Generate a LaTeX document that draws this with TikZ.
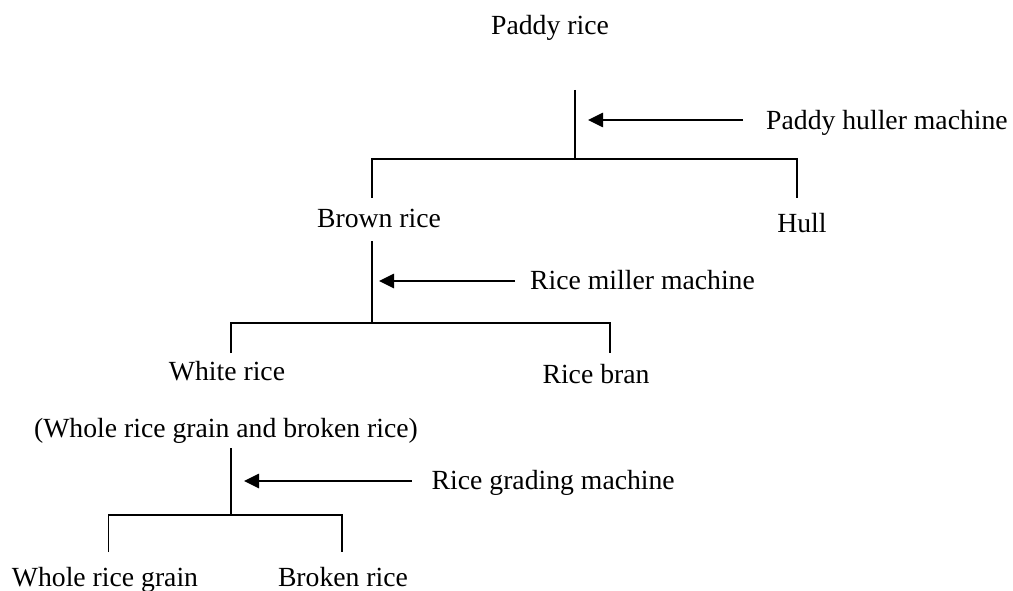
\documentclass[tikz,border=0pt]{standalone}
\usepackage{fontspec}
\setmainfont{Liberation Serif}
\usetikzlibrary{arrows.meta}
\begin{document}
\begin{tikzpicture}[x=1pt,y=-1pt,
  every node/.style={font=\fontsize{27.7}{30}\selectfont, inner sep=0pt},
  label/.style={anchor=base},
  machine/.style={anchor=base west},
  tree/.style={line width=1.8pt},
  feed/.style={line width=2.6pt,-{Triangle[length=15pt,width=14pt]}}]
\useasboundingbox (0,0) rectangle (1013,591);
% labels
\node[label] (paddy) at (550,35) {Paddy rice};
\node[label] (brown) at (379,228) {Brown rice};
\node[label] (hull) at (802,233) {Hull};
\node[label] (white) at (227,380) {White rice};
\node[label] (bran) at (596,383) {Rice bran};
\node[label] (mix) at (226,437) {(Whole rice grain and broken rice)};
\node[label] (whole) at (105,586) {Whole rice grain};
\node[label] (broken) at (343,586) {Broken rice};
\node[machine] (huller) at (766,130) {Paddy huller machine};
\node[machine] (miller) at (530,289.5) {Rice miller machine};
\node[machine] (grader) at (431.5,489) {Rice grading machine};
% junction coordinates
\coordinate (a0) at (575,90);
\coordinate (a1) at (575,159);
\coordinate (a2) at (372,159);
\coordinate (a3) at (797,159);
\coordinate (a2b) at (372,198);
\coordinate (a3b) at (797,198);
\coordinate (b0) at (372,241);
\coordinate (b1) at (372,323);
\coordinate (b2) at (231,323);
\coordinate (b3) at (610,323);
\coordinate (b2b) at (231,353);
\coordinate (b3b) at (610,353);
\coordinate (c0) at (231,448);
\coordinate (c1) at (231,515);
\coordinate (c2) at (108.5,515);
\coordinate (c3) at (342,515);
\coordinate (c2b) at (108.5,552);
\coordinate (c3b) at (342,552);
% arrow ends
\coordinate (ta) at (743,120);
\coordinate (ha) at (588,120);
\coordinate (tb) at (515,281);
\coordinate (hb) at (379,281);
\coordinate (tc) at (411.5,481);
\coordinate (hc) at (244,481);
% tree lines
\draw[tree] (a0) -- (a1);
\draw[tree] (a2b) -- (a2) -- (a3) -- (a3b);
\draw[tree] (b0) -- (b1);
\draw[tree] (b2b) -- (b2) -- (b3) -- (b3b);
\draw[tree] (c0) -- (c1);
\draw[tree] (c2b) -- (c2) -- (c3) -- (c3b);
% machine arrows
\draw[feed] (ta) -- (ha);
\draw[feed] (tb) -- (hb);
\draw[feed] (tc) -- (hc);
\end{tikzpicture}
\end{document}
